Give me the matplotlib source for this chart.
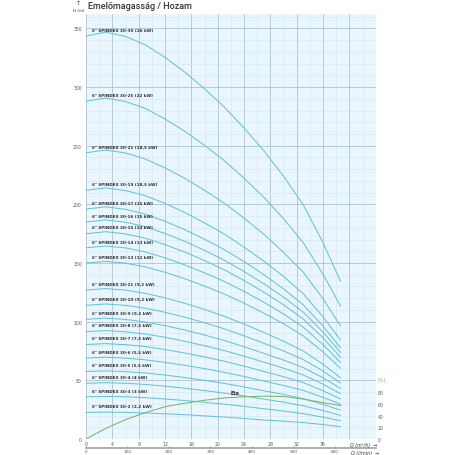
import matplotlib
matplotlib.use("Agg")
import matplotlib.pyplot as plt
from matplotlib.ticker import MultipleLocator, FixedLocator

# ---------------- data ----------------
q_m3h = [0, 3, 6, 9, 12, 15, 18, 21, 24, 27, 30, 33, 36, 38.7]

models = ["30-2", "30-3", "30-4", "30-5", "30-6", "30-7", "30-8", "30-9", "30-10",
          "30-11", "30-13", "30-14", "30-15", "30-16", "30-17", "30-19", "30-21",
          "30-25", "30-30"]
power = ["2,2 kW", "3 kW", "4 kW", "5,5 kW", "5,5 kW", "7,5 kW", "7,5 kW", "9,2 kW",
         "9,2 kW", "9,2 kW", "11 kW", "13 kW", "14 kW", "15 kW", "15 kW", "18,5 kW",
         "18,5 kW", "22 kW", "26 kW"]

h_30_2 = [22.7, 22.9, 22.7, 22.2, 21.5, 20.7, 19.7, 18.7, 17.5, 16.2, 15.2, 14.0, 12.3, 10.5]
h_30_3 = [36.0, 36.3, 36.0, 35.2, 34.1, 32.8, 31.3, 29.7, 27.8, 25.8, 23.8, 21.6, 18.6, 15.5]
h_30_4 = [47.5, 48.0, 47.5, 46.5, 45.0, 43.3, 41.3, 39.1, 36.7, 34.0, 31.4, 28.3, 24.3, 20.0]
h_30_5 = [57.5, 58.0, 57.4, 56.3, 54.5, 52.4, 50.0, 47.4, 44.4, 41.1, 38.0, 34.4, 29.5, 24.5]
h_30_6 = [69.0, 69.7, 68.9, 67.5, 65.3, 62.8, 60.0, 56.8, 53.3, 49.4, 45.6, 41.4, 35.5, 29.5]
h_30_7 = [80.5, 81.3, 80.4, 78.8, 76.2, 73.3, 70.0, 66.3, 62.1, 57.6, 53.1, 48.1, 41.1, 34.0]
h_30_8 = [91.5, 92.4, 91.4, 89.5, 86.7, 83.3, 79.5, 75.4, 70.6, 65.5, 60.4, 54.6, 46.7, 38.5]
h_30_9 = [102.0, 103.0, 101.9, 99.8, 96.6, 92.9, 88.6, 84.0, 78.7, 73.0, 67.3, 60.9, 52.1, 43.0]
h_30_10 = [114.0, 115.1, 113.9, 111.5, 108.0, 103.8, 99.1, 93.9, 88.0, 81.6, 75.1, 67.7, 57.9, 47.5]
h_30_11 = [127.0, 128.2, 126.9, 124.2, 120.3, 115.7, 110.4, 104.6, 98.0, 90.9, 83.4, 75.0, 63.7, 52.0]
h_30_13 = [150.0, 151.4, 149.9, 146.7, 142.1, 136.6, 130.4, 123.6, 115.8, 107.3, 98.2, 87.9, 74.2, 60.0]
h_30_14 = [163.0, 164.5, 162.9, 159.5, 154.4, 148.4, 141.6, 134.3, 125.8, 116.6, 106.6, 95.4, 80.4, 65.0]
h_30_15 = [175.0, 176.7, 174.8, 171.2, 165.7, 159.4, 152.1, 144.2, 135.1, 125.2, 114.4, 102.3, 86.2, 69.5]
h_30_16 = [185.0, 186.8, 184.8, 181.0, 175.2, 168.5, 160.8, 152.4, 142.8, 132.4, 121.0, 108.1, 91.2, 73.5]
h_30_17 = [196.0, 197.9, 195.8, 191.7, 185.6, 178.5, 170.3, 161.5, 151.3, 140.2, 128.0, 114.4, 96.2, 77.5]
h_30_19 = [212.0, 214.0, 211.8, 207.4, 200.8, 193.1, 184.2, 174.7, 163.6, 151.7, 138.6, 123.8, 104.2, 84.0]
h_30_21 = [244.0, 246.3, 243.8, 238.7, 231.1, 222.2, 212.0, 201.0, 188.3, 174.6, 159.1, 142.2, 119.5, 96.0]
h_30_25 = [288.0, 290.7, 287.7, 281.8, 272.8, 262.3, 250.3, 237.3, 222.3, 206.1, 187.8, 167.4, 140.4, 113.0]
h_30_30 = [343.5, 346.8, 343.2, 336.0, 325.3, 312.8, 298.5, 283.0, 265.1, 245.8, 224.0, 199.6, 167.4, 134.0]

heads = [h_30_2, h_30_3, h_30_4, h_30_5, h_30_6, h_30_7, h_30_8, h_30_9, h_30_10,
         h_30_11, h_30_13, h_30_14, h_30_15, h_30_16, h_30_17, h_30_19, h_30_21,
         h_30_25, h_30_30]

eta = [0, 18, 33, 45, 55, 61, 66, 70, 72, 73, 72.5, 68, 62, 57]

x_ticks = [0, 4, 8, 12, 16, 20, 24, 28, 32, 36]
y_ticks = [0, 50, 100, 150, 200, 250, 300, 350]
eta_ticks = [0, 20, 40, 60, 80]
lmin_ticks = [0, 100, 200, 300, 400, 500, 600]

# ---------------- style ----------------
CURVE = "#63c4d8"
GREEN = "#78b56f"
BG = "#eaf6fd"
MAJ = "#b0c3cf"
MIN = "#d6e7f0"
TXT = "#555555"

X_MAX = 44
Y_MAX = 362
LMIN_PER_M3H = 100 / 6.3   # as drawn on the reference scale

fig = plt.figure(figsize=(4.56, 4.56), dpi=100)
ax = fig.add_axes([0.1886, 0.0351, 0.6353, 0.9313])
ax.set_facecolor(BG)
ax.set_xlim(0, X_MAX)
ax.set_ylim(0, Y_MAX)
for s in ax.spines.values():
    s.set_visible(False)

ax.xaxis.set_minor_locator(MultipleLocator(2))
ax.yaxis.set_minor_locator(MultipleLocator(10))
major_x = list(range(0, X_MAX + 1, 4))
ax.set_xticks(major_x)
ax.set_xticklabels([str(v) if v in x_ticks else "" for v in major_x])
ax.set_yticks(y_ticks, [str(v) for v in y_ticks])
ax.grid(which="major", color=MAJ, linewidth=0.6)
ax.grid(which="minor", color=MIN, linewidth=0.45)
ax.set_axisbelow(True)
ax.tick_params(axis="both", which="both", length=0, labelsize=3.3, labelcolor=TXT)
ax.tick_params(axis="x", pad=1.2)
ax.tick_params(axis="y", pad=3.0)

label_font = ["Liberation Sans Narrow", "DejaVu Sans"]
for m, p, h in zip(models, power, heads):
    ax.plot(q_m3h, h, color=CURVE, linewidth=0.75, solid_capstyle="butt",
            solid_joinstyle="round", zorder=3)
    ax.annotate(f'6" SPINDEX {m} ({p})', xy=(0.85, h[0]), xytext=(0, 4.6),
                textcoords="offset points", ha="left", va="center",
                fontsize=3.0, weight="bold", color="#2f2f2f", family=label_font,
                zorder=5)

# efficiency on twin axis (100 % equals 50 m on the drawing)
ax2 = ax.twinx()
ax2.set_ylim(0, Y_MAX * 2)
for s in ax2.spines.values():
    s.set_visible(False)
ax2.set_yticks(eta_ticks, [str(v) for v in eta_ticks])
ax2.tick_params(axis="y", length=0, labelsize=3.3, labelcolor=TXT, pad=1.5)
ax2.plot(q_m3h, eta, color=GREEN, linewidth=0.75, solid_joinstyle="round", zorder=4)
ax2.text(21.9, 79, "Eta", fontsize=3.4, weight="bold", color="#333333",
         ha="left", va="center")
ax2.text(1.005, 101, "(%)", transform=ax2.get_yaxis_transform(), fontsize=3.6,
         color=GREEN, ha="left", va="center")

# secondary flow axis in l/min
sec = ax.secondary_xaxis("bottom", functions=(lambda x: x * LMIN_PER_M3H,
                                               lambda x: x / LMIN_PER_M3H))
sec.spines["bottom"].set_position(("outward", 6.5))
sec.spines["bottom"].set_color("#9a9a9a")
sec.spines["bottom"].set_linewidth(1.1)
sec.xaxis.set_major_locator(FixedLocator(lmin_ticks))
sec.set_xticklabels([str(v) for v in lmin_ticks])
sec.tick_params(axis="x", direction="in", length=1.8, width=0.5, color="#777777",
                labelsize=3.1, labelcolor=TXT, pad=1.0)

# axis captions
ax.text(0.912, -0.0075, "Q (m³/h)  →", transform=ax.transAxes, fontsize=3.4,
        style="italic", color="#333333", ha="left", va="top")
fig.text(351 / 456, 1 - 453.7 / 456, "Q (l/min)  →", fontsize=3.4, style="italic",
         color="#333333", ha="left", va="center")
fig.text(78 / 456, 1 - 3.5 / 456, "↑", fontsize=4.5, color="#333333",
         ha="center", va="center")
fig.text(78.5 / 456, 1 - 10.5 / 456, "H (m)", fontsize=3.0, style="italic",
         color="#333333", ha="center", va="center")
fig.text(88 / 456, 1 - 6.5 / 456, "Emelőmagasság / Hozam", fontsize=6.5,
         family=["Roboto", "DejaVu Sans"], weight="medium", color="#333333",
         ha="left", va="center")

fig.savefig("out.png", dpi=100)
